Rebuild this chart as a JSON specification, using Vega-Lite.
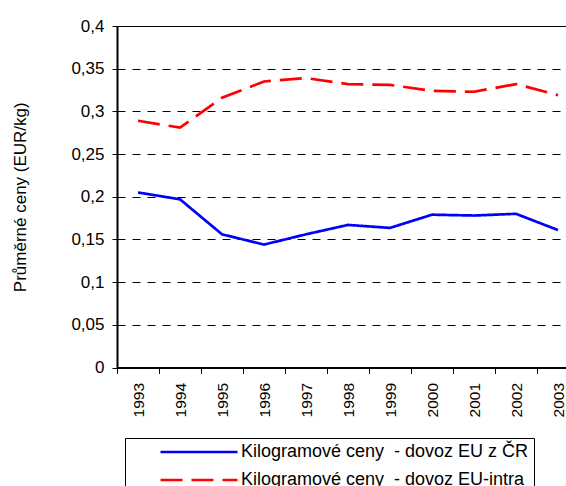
{
  "$schema": "https://vega.github.io/schema/vega-lite/v6.json",
  "autosize": {"type": "none"},
  "width": 449,
  "height": 341.5,
  "padding": {"left": 117, "top": 26, "right": 0, "bottom": 118.5},
  "background": "white",
  "config": {
    "view": {"stroke": null},
    "font": "Liberation Sans"
  },
  "data": {
    "values": [
      {"year": "1993", "series": "Kilogramové ceny  - dovoz EU z ČR", "value": 0.205},
      {"year": "1994", "series": "Kilogramové ceny  - dovoz EU z ČR", "value": 0.197},
      {"year": "1995", "series": "Kilogramové ceny  - dovoz EU z ČR", "value": 0.156},
      {"year": "1996", "series": "Kilogramové ceny  - dovoz EU z ČR", "value": 0.144},
      {"year": "1997", "series": "Kilogramové ceny  - dovoz EU z ČR", "value": 0.156},
      {"year": "1998", "series": "Kilogramové ceny  - dovoz EU z ČR", "value": 0.167},
      {"year": "1999", "series": "Kilogramové ceny  - dovoz EU z ČR", "value": 0.1635},
      {"year": "2000", "series": "Kilogramové ceny  - dovoz EU z ČR", "value": 0.179},
      {"year": "2001", "series": "Kilogramové ceny  - dovoz EU z ČR", "value": 0.178},
      {"year": "2002", "series": "Kilogramové ceny  - dovoz EU z ČR", "value": 0.18},
      {"year": "2003", "series": "Kilogramové ceny  - dovoz EU z ČR", "value": 0.161},
      {"year": "1993", "series": "Kilogramové ceny  - dovoz EU-intra", "value": 0.289},
      {"year": "1994", "series": "Kilogramové ceny  - dovoz EU-intra", "value": 0.281},
      {"year": "1995", "series": "Kilogramové ceny  - dovoz EU-intra", "value": 0.316},
      {"year": "1996", "series": "Kilogramové ceny  - dovoz EU-intra", "value": 0.335},
      {"year": "1997", "series": "Kilogramové ceny  - dovoz EU-intra", "value": 0.339},
      {"year": "1998", "series": "Kilogramové ceny  - dovoz EU-intra", "value": 0.332},
      {"year": "1999", "series": "Kilogramové ceny  - dovoz EU-intra", "value": 0.331},
      {"year": "2000", "series": "Kilogramové ceny  - dovoz EU-intra", "value": 0.324},
      {"year": "2001", "series": "Kilogramové ceny  - dovoz EU-intra", "value": 0.323},
      {"year": "2002", "series": "Kilogramové ceny  - dovoz EU-intra", "value": 0.332},
      {"year": "2003", "series": "Kilogramové ceny  - dovoz EU-intra", "value": 0.319}
    ]
  },
  "mark": {"type": "line", "strokeWidth": 2.7},
  "encoding": {
    "x": {
      "field": "year",
      "type": "ordinal",
      "scale": {"type": "band", "paddingInner": 0, "paddingOuter": 0, "range": [0, 462]},
      "axis": {
        "title": null,
        "tickBand": "extent",
        "labelAngle": -90,
        "labelAlign": "right",
        "labelBaseline": "middle",
        "labelFontSize": 15.5,
        "labelColor": "black",
        "labelPadding": 9,
        "tickSize": 6,
        "tickColor": "black",
        "domainColor": "black",
        "domainWidth": 2,
        "grid": false
      }
    },
    "y": {
      "field": "value",
      "type": "quantitative",
      "scale": {"domain": [0, 0.4], "nice": false},
      "axis": {
        "title": "Průměrné ceny (EUR/kg)",
        "titleFontSize": 17,
        "titleFontWeight": "normal",
        "titleColor": "black",
        "titleX": -97,
        "titleY": 170.75,
        "titleAlign": "center",
        "titleBaseline": "middle",
        "titleAngle": 270,
        "values": [0, 0.05, 0.1, 0.15, 0.2, 0.25, 0.3, 0.35, 0.4],
        "labelExpr": "replace(toString(datum.value), '.', ',')",
        "labelFontSize": 17,
        "labelColor": "black",
        "labelPadding": 8,
        "tickSize": 5,
        "tickColor": "black",
        "domainColor": "black",
        "domainWidth": 2,
        "grid": true,
        "gridColor": "black",
        "gridWidth": 1,
        "gridDash": {"condition": {"test": "datum.value > 0.39", "value": []}, "value": [8, 7]}
      }
    },
    "color": {
      "field": "series",
      "type": "nominal",
      "scale": {
        "domain": ["Kilogramové ceny  - dovoz EU z ČR", "Kilogramové ceny  - dovoz EU-intra"],
        "range": ["#0000FF", "#FF0000"]
      },
      "legend": {
        "title": null,
        "orient": "none",
        "legendX": 8,
        "legendY": 412,
        "strokeColor": "black",
        "fillColor": "white",
        "padding": 5,
        "symbolType": "M-7,0H7",
        "symbolSize": 121,
        "symbolStrokeWidth": 2.7,
        "symbolOffset": 60,
        "labelFontSize": 18,
        "labelColor": "black",
        "labelOffset": 33,
        "labelLimit": 500,
        "rowPadding": 10,
        "labelExpr": "replace(datum.label, '  ', ' \u00a0') + '\u00a0\u00a0\u00a0\u00a0\u00a0\u00a0\u00a0\u00a0\u00a0\u00a0'"
      }
    },
    "strokeDash": {
      "field": "series",
      "type": "nominal",
      "scale": {
        "domain": ["Kilogramové ceny  - dovoz EU z ČR", "Kilogramové ceny  - dovoz EU-intra"],
        "range": [[1, 0], [22, 9]]
      },
      "legend": {
        "title": null,
        "orient": "none",
        "legendX": 8,
        "legendY": 412,
        "strokeColor": "black",
        "fillColor": "white",
        "padding": 5,
        "symbolType": "M-7,0H7",
        "symbolSize": 121,
        "symbolStrokeWidth": 2.7,
        "symbolOffset": 60,
        "labelFontSize": 18,
        "labelColor": "black",
        "labelOffset": 33,
        "labelLimit": 500,
        "rowPadding": 10,
        "labelExpr": "replace(datum.label, '  ', ' \u00a0') + '\u00a0\u00a0\u00a0\u00a0\u00a0\u00a0\u00a0\u00a0\u00a0\u00a0'"
      }
    }
  }
}
